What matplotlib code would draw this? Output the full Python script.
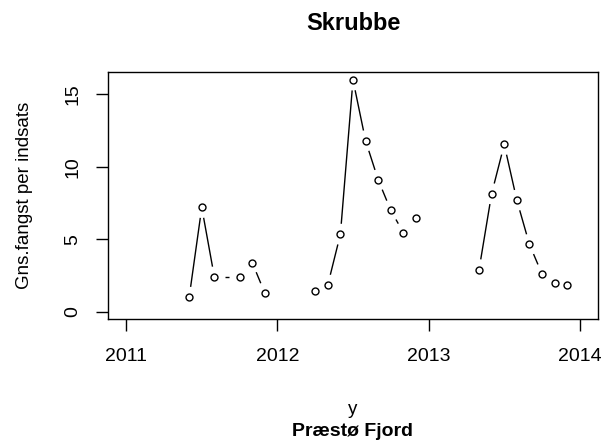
#!/usr/bin/env python3
"""Monthly mean catch per effort for flounder (Skrubbe), Præstø Fjord."""

import numpy as np
import matplotlib

matplotlib.use("Agg")
import matplotlib.pyplot as plt

# Sampling months and mean catch per effort; each year is drawn as its own run.
years = [2011, 2011, 2011, 2011, 2011, 2011,
         2012, 2012, 2012, 2012, 2012, 2012, 2012, 2012, 2012,
         2013, 2013, 2013, 2013, 2013, 2013, 2013, 2013]
months = [6, 7, 8, 10, 11, 12,
          4, 5, 6, 7, 8, 9, 10, 11, 12,
          5, 6, 7, 8, 9, 10, 11, 12]
catch = [1.0, 7.2, 2.4, 2.4, 3.4, 1.3,
         1.4, 1.85, 5.35, 16.0, 11.8, 9.1, 7.0, 5.45, 6.5,
         2.9, 8.15, 11.55, 7.7, 4.65, 2.6, 2.0, 1.85]

x_ticks = [2011, 2012, 2013, 2014]
y_ticks = [0, 5, 10, 15]

FONT = "Liberation Sans"
W, H = 611, 443
GAP_PX = 10.5  # blank space left around each point, like R's type="b"

fig = plt.figure(figsize=(W / 100, H / 100), dpi=100)
ax = fig.add_axes([108 / W, 1 - 319 / H, 490 / W, 247 / H])
ax.set_xlim(2010.88, 2014.12)
ax.set_ylim(-0.5, 16.55)

dates = np.array(years) + (np.array(months) - 1) / 12.0
values = np.array(catch, dtype=float)
run_ids = np.array(years)

to_px = ax.transData
to_data = ax.transData.inverted()
for run in np.unique(run_ids):
    sel = run_ids == run
    pts = to_px.transform(np.column_stack([dates[sel], values[sel]]))
    for p0, p1 in zip(pts[:-1], pts[1:]):
        d = p1 - p0
        length = np.hypot(*d)
        if length <= 2 * GAP_PX:
            continue
        u = d / length
        seg = to_data.transform(np.array([p0 + u * GAP_PX, p1 - u * GAP_PX]))
        ax.plot(seg[:, 0], seg[:, 1], color="black", lw=1.0,
                solid_capstyle="butt")

ax.plot(dates, values, linestyle="none", marker="o", markersize=5,
        markerfacecolor="none", markeredgecolor="black", markeredgewidth=1.0)

for spine in ax.spines.values():
    spine.set_linewidth(1.0)

ax.set_xticks(x_ticks)
ax.set_xticklabels([str(t) for t in x_ticks], fontsize=14, family=FONT)
ax.set_yticks(y_ticks)
ax.set_yticklabels([str(t) for t in y_ticks], fontsize=14, family=FONT,
                   rotation=90, va="center")
ax.tick_params(direction="out", length=8.7, width=1.0)
ax.tick_params(axis="x", pad=12)
ax.tick_params(axis="y", pad=10.5)

fig.text(353 / W, 1 - 24 / H, "Skrubbe", ha="center", va="center",
         fontsize=17, fontweight="bold", family=FONT)
fig.text(24.5 / W, 1 - 195.5 / H, "Gns.fangst per indsats", rotation=90,
         ha="center", va="center", fontsize=13.5, family=FONT)
fig.text(353 / W, 1 - 409 / H, "y", ha="center", va="center",
         fontsize=13.5, family=FONT)
fig.text(353 / W, 1 - 431 / H, "Præstø Fjord", ha="center", va="center",
         fontsize=14, fontweight="bold", family=FONT)

fig.savefig("out.png", dpi=100)
